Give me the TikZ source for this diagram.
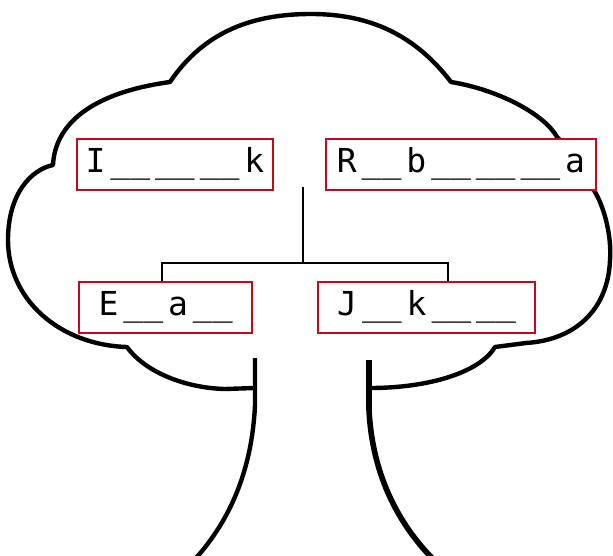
\documentclass[tikz,border=0pt]{standalone}
\usepackage{fontspec}
\setmonofont{DejaVu Sans Mono}
\usepackage{tikz}
\usetikzlibrary{positioning}
\definecolor{boxred}{RGB}{192,8,32}
\newcommand{\bl}{\kern.15em\_\_}

\begin{document}
\begin{tikzpicture}[x=0.5pt,y=-0.5pt]
    \tikzstyle{blankbox}=[draw=boxred,line width=1pt,fill=white,minimum height=25.3pt,text height=12.4pt,text depth=4.4pt,inner sep=0pt,font=\ttfamily\fontsize{16.5}{20}\selectfont]
    \tikzstyle{outline}=[line width=2.2pt,line join=round]
    \useasboundingbox (0,0) rectangle (613,555);
    % tree crown, from the left of the trunk round to its right
    \draw[outline] (255,388) -- (225,389) .. controls (185,388) and (145,372) .. (127,347)
        .. controls (60,345) and (8,300) .. (8,240) .. controls (8,195) and (30,170) .. (53,165)
        .. controls (55,125) and (90,93) .. (170,82)
        .. controls (205,30) and (255,14) .. (311,14) .. controls (370,14) and (415,35) .. (451,82)
        .. controls (500,90) and (545,115) .. (557,137) .. controls (570,150) and (580,165) .. (590,185)
        .. controls (603,200) and (612,235) .. (610,260) .. controls (608,310) and (575,340) .. (526,343)
        -- (495,347) .. controls (480,372) and (430,388) .. (370,388);
    % trunk
    \draw[outline] (255,358) -- (255,405) .. controls (252,470) and (230,520) .. (196,558);
    \draw[outline,line width=2.8pt] (369,360) -- (369,410) .. controls (372,470) and (395,520) .. (432,558);
    % boxes
    \node[blankbox,minimum width=98pt] (Ik) at (175,164.7) {I\bl\bl\bl\kern.15em k};
    \node[blankbox,minimum width=135pt,right=25.5pt of Ik] (Rba) {R\bl\kern.15em b\bl\bl\bl\kern.15em a};
    \node[blankbox,minimum width=86.5pt] (Ea) at (165.7,307.7) {E\bl\kern.15em a\bl};
    \node[blankbox,minimum width=108.4pt,right=32pt of Ea] (Jk) {J\bl\kern.15em k\bl\bl};
    % connectors
    \coordinate (root) at (303,187);
    \coordinate (fork) at (303,263.3);
    \coordinate (forkl) at (162,263.3);
    \coordinate (forkr) at (447.5,263.3);
    \draw[line width=1pt] (root) -- (fork);
    \draw[line width=1pt] (forkl |- Ea.north) -- (forkl) -- (forkr) -- (forkr |- Jk.north);
\end{tikzpicture}
\end{document}
